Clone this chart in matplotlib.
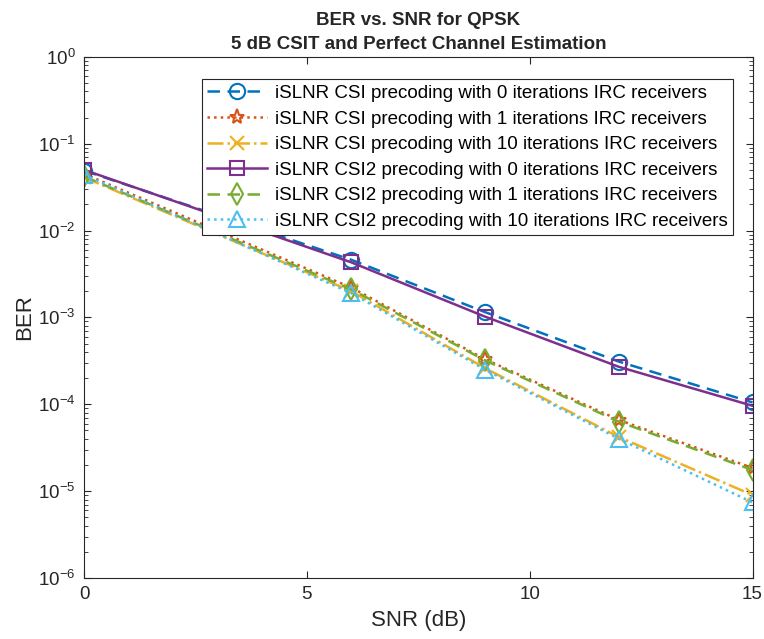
import numpy as np
import matplotlib.pyplot as plt
from matplotlib.ticker import LogLocator, NullFormatter

plt.rcParams['font.family'] = ['Liberation Sans', 'DejaVu Sans']

snr = [0, 6, 9, 12, 15]
csi_0 = [0.049, 4.6e-3, 1.15e-3, 3.1e-4, 1.05e-4]
csi_1 = [0.045, 2.2e-3, 3.3e-4, 6.6e-5, 1.85e-5]
csi_10 = [0.041, 2.0e-3, 2.6e-4, 4.2e-5, 9.0e-6]
csi2_0 = [0.050, 4.3e-3, 1.02e-3, 2.7e-4, 9.6e-5]
csi2_1 = [0.042, 2.1e-3, 3.2e-4, 6.3e-5, 1.75e-5]
csi2_10 = [0.044, 1.9e-3, 2.5e-4, 4.0e-5, 7.4e-6]

labels = [
    'iSLNR CSI precoding with 0 iterations IRC receivers',
    'iSLNR CSI precoding with 1 iterations IRC receivers',
    'iSLNR CSI precoding with 10 iterations IRC receivers',
    'iSLNR CSI2 precoding with 0 iterations IRC receivers',
    'iSLNR CSI2 precoding with 1 iterations IRC receivers',
    'iSLNR CSI2 precoding with 10 iterations IRC receivers',
]

fig = plt.figure(figsize=(7.64, 6.39), dpi=100)
ax = fig.add_axes([0.110, 0.0955, 0.875, 0.8155])

ax.semilogy(snr, csi_0, linestyle=(0, (5, 3)), color='#0072BD', marker='o', mfc='none', ms=11, mew=1.5, lw=1.8, label=labels[0])
ax.semilogy(snr, csi_1, linestyle=':', color='#D95319', marker='*', mfc='none', ms=11, mew=1.5, lw=1.8, label=labels[1])
ax.semilogy(snr, csi_10, linestyle='-.', color='#EDB120', marker='x', mfc='none', ms=10, mew=1.5, lw=1.8, label=labels[2])
ax.semilogy(snr, csi2_0, linestyle='-', color='#7E2F8E', marker='s', mfc='none', ms=10, mew=1.5, lw=1.8, label=labels[3])
ax.semilogy(snr, csi2_1, linestyle=(0, (5, 3)), color='#77AC30', marker='d', mfc='none', ms=11, mew=1.5, lw=1.8, label=labels[4])
ax.semilogy(snr, csi2_10, linestyle=':', color='#4DBEEE', marker='^', mfc='none', ms=12, mew=1.5, lw=1.8, label=labels[5])

ax.set_xlim(0, 15)
ax.set_ylim(1e-6, 1)
ax.set_xticks([0, 5, 10, 15])
ax.yaxis.set_major_locator(LogLocator(base=10, numticks=10))
ax.yaxis.set_minor_locator(LogLocator(base=10, subs=np.arange(2, 10), numticks=20))
ax.yaxis.set_minor_formatter(NullFormatter())
ax.tick_params(which='both', direction='in', top=True, right=True, labelsize=13.5, color='#262626', labelcolor='#262626', pad=6)
ax.tick_params(which='major', length=5)
ax.tick_params(which='minor', length=3)
for s in ax.spines.values():
    s.set_color('#262626')
    s.set_linewidth(0.8)

ax.set_xlabel('SNR (dB)', fontsize=16, color='#262626', labelpad=5)
ax.set_ylabel('BER', fontsize=16, color='#262626', labelpad=2)
ax.set_title('BER vs. SNR for QPSK\n5 dB CSIT and Perfect Channel Estimation', fontsize=13.5, fontweight='bold', color='#262626', linespacing=1.5)

leg = ax.legend(loc='upper right', bbox_to_anchor=(0.985, 0.975), fontsize=13.5, fancybox=False, framealpha=1,
                edgecolor='#262626', handlelength=3.2, borderpad=0.3, labelspacing=0.45, handletextpad=0.4)
leg.get_frame().set_linewidth(0.8)

plt.savefig('out.png', dpi=100)
